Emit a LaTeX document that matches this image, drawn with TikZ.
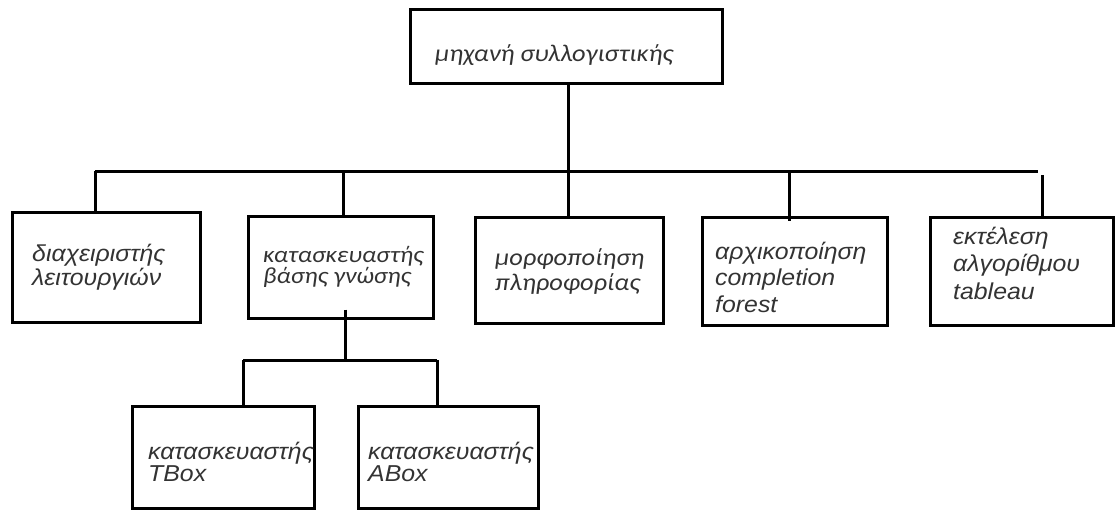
\documentclass[tikz,border=0pt]{standalone}
\usepackage{fontspec}
\newfontfamily\calfont[FakeStretch=1.1]{Carlito}
\newfontfamily\arfont[FakeStretch=1.08]{Liberation Sans}
\begin{document}
\begin{tikzpicture}[x=1pt,y=-1pt,
  box/.style={draw=black,line width=3pt,rectangle,inner sep=0pt},
  conn/.style={draw=black,line width=3pt},
  cal/.style={font=\calfont\itshape\fontsize{24}{#1}\selectfont,text=black!80,anchor=base west,align=left,inner sep=0pt},
  cal/.default=22,
  calsm/.style={font=\calfont\itshape\fontsize{23}{#1}\selectfont,text=black!80,anchor=base west,align=left,inner sep=0pt},
  ari/.style={font=\arfont\itshape\fontsize{23}{#1}\selectfont,text=black!80,anchor=base west,align=left,inner sep=0pt},
  ari/.default=22]
\useasboundingbox (0,0) rectangle (1116,511);
% boxes
\node[box,minimum width=312pt,minimum height=73pt] (top) at (566,46.5) {};
\node[box,minimum width=188pt,minimum height=110pt] (b1) at (106,267) {};
\node[box,minimum width=185pt,minimum height=102pt] (b2) at (340.5,267) {};
\node[box,minimum width=188pt,minimum height=106pt] (b3) at (569,270) {};
\node[box,minimum width=185pt,minimum height=108pt] (b4) at (794.5,271) {};
\node[box,minimum width=183pt,minimum height=108pt] (b5) at (1021.5,271) {};
\node[box,minimum width=182pt,minimum height=102pt] (b6) at (223,457) {};
\node[box,minimum width=180pt,minimum height=102pt] (b7) at (448,457) {};
% texts (anchor = baseline of the last line)
\node[cal] (t0) at (435,62) {μηχανή συλλογιστικής};
\node[ari=20] (t1) at (32,285) {διαχειριστής\\λειτουργιών};
\node[calsm=21] (t2) at (263,283) {κατασκευαστής\\βάσης γνώσης};
\node[cal=25] (t3) at (495,290) {μορφοποίηση\\πληροφορίας};
\node[ari=26.5] (t4) at (715,312) {αρχικοποίηση\\completion\\forest};
\node[ari=27.5] (t5) at (953,299) {εκτέλεση\\αλγορίθμου\\tableau};
\node[ari=22] (t6) at (148,481) {κατασκευαστής\\TBox};
\node[ari=22] (t7) at (368,481) {κατασκευαστής\\ABox};
% bus coordinates
\coordinate (busL) at (95,171);
\coordinate (busR) at (1038,171);
\coordinate (d1) at (95,171);
\coordinate (d2) at (343,171);
\coordinate (d3) at (568,171);
\coordinate (d4) at (789,171);
\coordinate (d5) at (1042,175);
\coordinate (s0) at (345,360);
\coordinate (sL) at (243,360);
\coordinate (sR) at (437,360);
% connectors
\draw[conn] (top.south -| d3) -- (d3);
\draw[conn] (busL) -- (busR);
\draw[conn] (d1) -- (d1 |- b1.north);
\draw[conn] (d2) -- (d2 |- b2.north);
\draw[conn] (d3) -- (d3 |- b3.north);
\draw[conn] (d4) -- ([yshift=-5pt]d4 |- b4.north);
\draw[conn] (d5) -- (d5 |- b5.north);
\draw[conn] ([yshift=10pt]s0 |- b2.south) -- (s0);
\draw[conn] (sL) -- (sR);
\draw[conn] (sL) -- (sL |- b6.north);
\draw[conn] (sR) -- (sR |- b7.north);
\end{tikzpicture}
\end{document}
